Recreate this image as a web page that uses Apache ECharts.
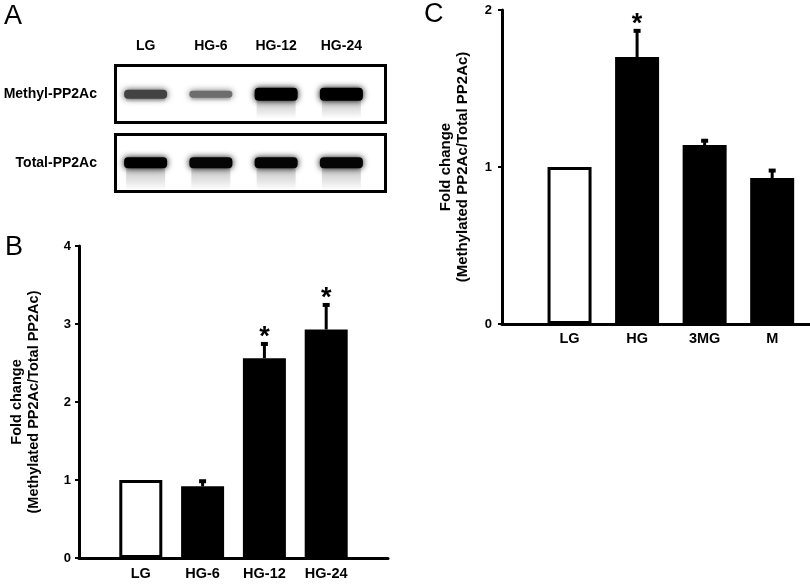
<!DOCTYPE html>
<html><head><meta charset="utf-8">
<script src="https://cdn.jsdelivr.net/npm/echarts@6/dist/echarts.min.js"></script>
<style>html,body{margin:0;padding:0;background:#fff}#c{width:810px;height:585px}</style>
</head><body><div id="c"></div>
<script>
const FONT = '"Liberation Sans", Arial, Helvetica, sans-serif';

// Panel A (western blot)
const blotLanes = ['LG', 'HG-6', 'HG-12', 'HG-24'];
const blotRows = ['Methyl-PP2Ac', 'Total-PP2Ac'];
const methylIntensity = [0.62, 0.38, 1.0, 1.0];
const totalIntensity = [1.0, 0.97, 0.97, 0.97];

// Panel B
const catsB = ['LG', 'HG-6', 'HG-12', 'HG-24'];
const meanB = [1.0, 0.92, 2.56, 2.93];
const errB = [0, 0.09, 0.21, 0.34];
const sigB = [false, false, true, true];
const yTicksB = [0, 1, 2, 3, 4];

// Panel C
const catsC = ['LG', 'HG', '3MG', 'M'];
const meanC = [1.0, 1.70, 1.14, 0.93];
const errC = [0, 0.18, 0.04, 0.06];
const sigC = [false, true, false, false];
const yTicksC = [0, 1, 2];

const yTitle = 'Fold change\n(Methylated PP2Ac/Total PP2Ac)';

const chart = echarts.init(document.getElementById('c'), null, {renderer: 'canvas'});

function barData(means) {
  return means.map((v, i) => ({
    value: [i + 1, v],
    itemStyle: i === 0
      ? {color: '#fff', borderColor: '#000', borderWidth: 3}
      : {color: '#000'}
  }));
}
function errData(means, errs, sigs) {
  return means.map((v, i) => [i + 1, v, errs[i], sigs[i] ? 1 : 0]);
}
function renderErr(params, api) {
  const x = api.value(0), m = api.value(1), e = api.value(2), s = api.value(3);
  const base = api.coord([x, m]);
  const top = api.coord([x, m + e]);
  const children = [];
  if (e > 0) {
    children.push({type: 'line', shape: {x1: base[0], y1: base[1], x2: top[0], y2: top[1] + 2},
      style: {stroke: '#000', lineWidth: 3}});
    children.push({type: 'rect', shape: {x: top[0] - 3.5, y: top[1], width: 7, height: 4},
      style: {fill: '#000'}});
  }
  if (s) {
    children.push({type: 'text', x: top[0], y: top[1] - 4,
      style: {text: '*', fill: '#000', font: 'bold 27px ' + FONT, align: 'center', verticalAlign: 'middle'}});
  }
  return {type: 'group', children};
}

function renderBand(params, api) {
  const lane = api.value(0), row = api.value(1), inten = api.value(2);
  const c = api.coord([lane, row]);
  const w = 43;
  const h = row === 0 ? 3 + 10 * inten : 11;
  const g = Math.round(175 * (1 - inten));
  const col = 'rgb(' + g + ',' + g + ',' + g + ')';
  const smearLen = row === 0 ? (inten > 0.9 ? 18 : 4) : 22;
  return {type: 'group', children: [
    {type: 'rect', shape: {x: c[0] - w / 2 + 2, y: c[1], width: w - 4, height: h / 2 + smearLen},
      style: {fill: new echarts.graphic.LinearGradient(0, 0, 0, 1, [
        {offset: 0, color: 'rgba(70,70,70,0.35)'}, {offset: 1, color: 'rgba(70,70,70,0)'}]),
        shadowBlur: 4, shadowColor: 'rgba(70,70,70,0.2)'}},
    {type: 'rect', shape: {x: c[0] - w / 2, y: c[1] - h / 2, width: w, height: h, r: 4},
      style: {fill: col, shadowBlur: 6, shadowColor: col}}
  ]};
}

const bandData = [];
methylIntensity.forEach((v, i) => bandData.push([i, 0, v]));
totalIntensity.forEach((v, i) => bandData.push([i, 1, v]));

const labelFont = {fontFamily: FONT, fontWeight: 'bold', color: '#000'};

chart.setOption({
  animation: false,
  backgroundColor: '#fff',
  grid: [
    {left: 113, top: 60, width: 261, height: 137},
    {left: 79, top: 246, width: 309, height: 312},
    {left: 502, top: 10, width: 308, height: 314}
  ],
  xAxis: [
    {gridIndex: 0, type: 'category', data: blotLanes, position: 'top',
     axisLine: {show: false}, axisTick: {show: false},
     axisLabel: Object.assign({fontSize: 14, margin: 7}, labelFont)},
    {gridIndex: 1, type: 'value', min: 0, max: 5, interval: 1,
     splitLine: {show: false}, axisTick: {show: false},
     axisLine: {lineStyle: {color: '#000', width: 3}},
     axisLabel: Object.assign({fontSize: 14.5, margin: 8,
       formatter: v => catsB[v - 1] || ''}, labelFont)},
    {gridIndex: 2, type: 'value', min: 0, max: 4.56, interval: 1,
     splitLine: {show: false}, axisTick: {show: false},
     axisLine: {lineStyle: {color: '#000', width: 3}},
     axisLabel: Object.assign({fontSize: 14.5, margin: 7, showMaxLabel: false,
       formatter: v => catsC[v - 1] || ''}, labelFont)}
  ],
  yAxis: [
    {gridIndex: 0, type: 'category', data: blotRows, inverse: true,
     axisLine: {show: false}, axisTick: {show: false},
     axisLabel: Object.assign({fontSize: 14, margin: 16}, labelFont)},
    {gridIndex: 1, type: 'value', min: yTicksB[0], max: yTicksB[yTicksB.length - 1], interval: 1,
     splitLine: {show: false},
     axisLine: {show: true, lineStyle: {color: '#000', width: 3}},
     axisTick: {show: true, length: 4, lineStyle: {color: '#000', width: 2}},
     axisLabel: Object.assign({fontSize: 13, margin: 8}, labelFont),
     name: yTitle, nameLocation: 'middle', nameRotate: 90, nameGap: 37,
     nameTextStyle: {fontFamily: FONT, fontWeight: 'bold', fontSize: 14.5, lineHeight: 17, color: '#000'}},
    {gridIndex: 2, type: 'value', min: yTicksC[0], max: yTicksC[yTicksC.length - 1], interval: 1,
     splitLine: {show: false},
     axisLine: {show: true, lineStyle: {color: '#000', width: 3}},
     axisTick: {show: true, length: 4, lineStyle: {color: '#000', width: 2}},
     axisLabel: Object.assign({fontSize: 13, margin: 10}, labelFont),
     name: yTitle, nameLocation: 'middle', nameRotate: 90, nameGap: 31,
     nameTextStyle: {fontFamily: FONT, fontWeight: 'bold', fontSize: 15, lineHeight: 17, color: '#000'}}
  ],
  series: [
    {type: 'custom', xAxisIndex: 0, yAxisIndex: 0, renderItem: renderBand, data: bandData, silent: true},
    {type: 'bar', xAxisIndex: 1, yAxisIndex: 1, barWidth: 43, data: barData(meanB)},
    {type: 'custom', xAxisIndex: 1, yAxisIndex: 1, renderItem: renderErr, data: errData(meanB, errB, sigB), z: 3},
    {type: 'bar', xAxisIndex: 2, yAxisIndex: 2, barWidth: 44, data: barData(meanC)},
    {type: 'custom', xAxisIndex: 2, yAxisIndex: 2, renderItem: renderErr, data: errData(meanC, errC, sigC), z: 3}
  ],
  graphic: [
    {type: 'rect', shape: {x: 115.5, y: 65.5, width: 270, height: 57}, style: {fill: 'none', stroke: '#000', lineWidth: 3}, z: 10},
    {type: 'rect', shape: {x: 115.5, y: 134.5, width: 270, height: 57}, style: {fill: 'none', stroke: '#000', lineWidth: 3}, z: 10},
    {type: 'text', left: 4, top: 3, style: {text: 'A', font: '27px ' + FONT, fill: '#000'}},
    {type: 'text', left: 5, top: 234, style: {text: 'B', font: '27px ' + FONT, fill: '#000'}},
    {type: 'text', left: 424, top: 1, style: {text: 'C', font: '27px ' + FONT, fill: '#000'}}
  ]
});
</script></body></html>
